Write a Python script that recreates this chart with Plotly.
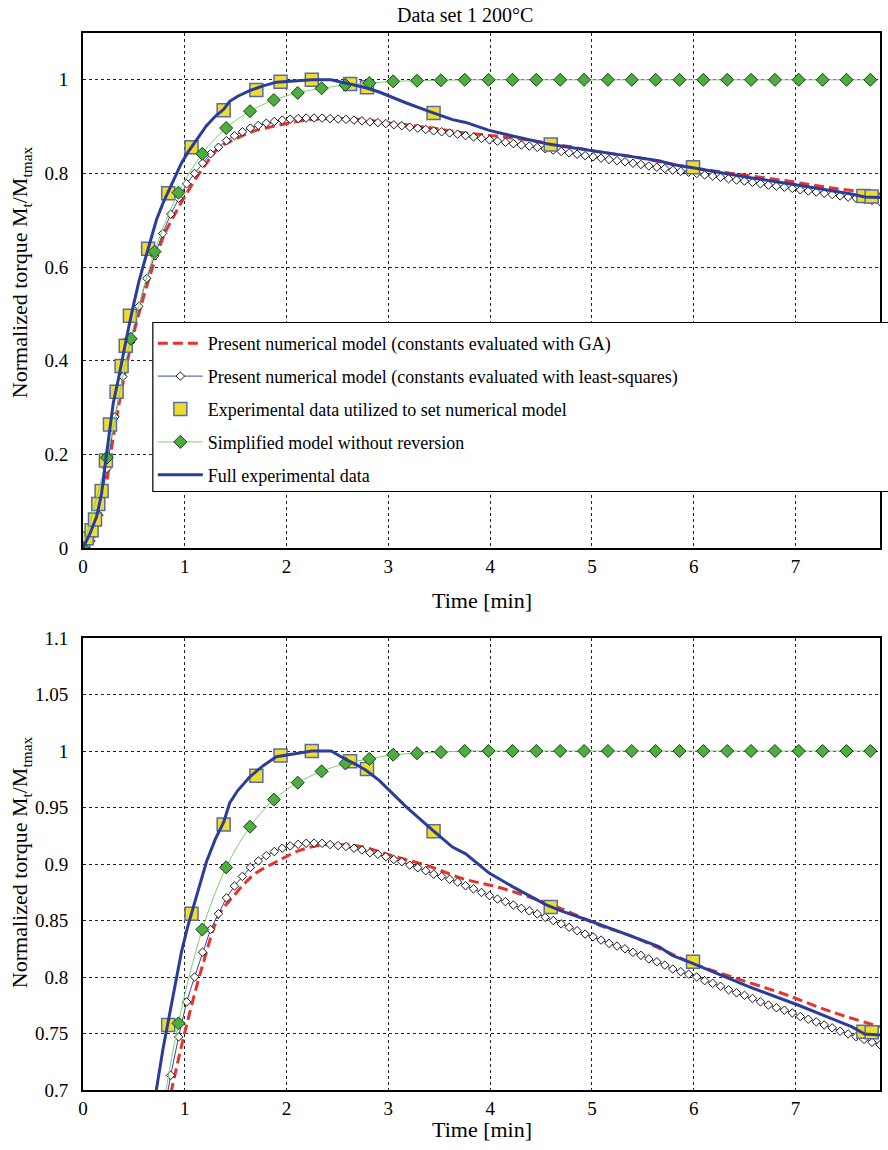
import plotly.graph_objects as go

# ---------------- data ----------------
# Present numerical model (GA)
t_ga = [0, 0.1, 0.2, 0.3, 0.4, 0.5, 0.6, 0.7, 0.8, 0.87, 1.0, 1.18, 1.343, 1.474, 1.6, 1.7,
        1.9, 2.13, 2.36, 2.585, 2.78, 3.01, 3.4, 3.73, 4.056, 4.38, 4.71, 5.07, 5.395, 5.72,
        5.99, 6.375, 6.866, 7.36, 7.83]
v_ga = [0, 0.02, 0.1, 0.24, 0.36, 0.46, 0.54, 0.61, 0.67, 0.70, 0.751, 0.812, 0.856, 0.871,
        0.884, 0.892, 0.902, 0.912, 0.917, 0.917, 0.9145, 0.908, 0.898, 0.887, 0.880, 0.871,
        0.860, 0.846, 0.836, 0.823, 0.812, 0.800, 0.7856, 0.769, 0.756]

# Present numerical model (least squares), sampled every ls_step minutes
ls_step = 0.0783
v_ls = [0, 0.015, 0.07, 0.17, 0.28, 0.366, 0.44, 0.516, 0.576, 0.624,
        0.672, 0.713, 0.747, 0.778, 0.800, 0.822, 0.842, 0.856, 0.870, 0.8805,
        0.889, 0.897, 0.9027, 0.9074, 0.911, 0.914, 0.916, 0.9174, 0.9183, 0.9185,
        0.9183, 0.9172, 0.9163, 0.9155, 0.914, 0.9124, 0.910, 0.9086, 0.9065, 0.904,
        0.902, 0.899, 0.8967, 0.894, 0.891, 0.889, 0.8865, 0.884, 0.8808, 0.878,
        0.8748, 0.872, 0.869, 0.8667, 0.8637, 0.8608, 0.8585, 0.8558, 0.8528, 0.850,
        0.847, 0.844, 0.841, 0.838, 0.8355, 0.8327, 0.8298, 0.8274, 0.8250, 0.8218,
        0.8192, 0.8160, 0.8135, 0.8105, 0.8070, 0.8047, 0.8025, 0.8000, 0.7968, 0.7944,
        0.7918, 0.7887, 0.7860, 0.7838, 0.7810, 0.7780, 0.7752, 0.7728, 0.7706, 0.7682,
        0.7650, 0.7626, 0.7603, 0.7576, 0.7550, 0.7520, 0.7496, 0.7472, 0.7448, 0.7422,
        0.7400]
t_ls = [round(ls_step * k, 4) for k in range(len(v_ls))]

# Experimental data utilized to set numerical model
t_exp = [0.003, 0.036, 0.085, 0.118, 0.15, 0.183, 0.225, 0.265, 0.33, 0.379, 0.42, 0.461,
         0.64, 0.837, 1.066, 1.382, 1.703, 1.941, 2.248, 2.624, 2.79, 3.444, 4.595, 5.993,
         7.667, 7.748]
v_exp = [0.003, 0.021, 0.038, 0.061, 0.094, 0.122, 0.187, 0.264, 0.334, 0.389, 0.432, 0.496,
         0.639, 0.7575, 0.856, 0.935, 0.978, 0.996, 1.0, 0.991, 0.984, 0.929, 0.862, 0.8135,
         0.7516, 0.751]

# Simplified model without reversion, sampled every simp_step minutes
simp_step = 0.2344
v_simp = [0, 0.193, 0.447, 0.633, 0.759, 0.842, 0.897, 0.933, 0.957, 0.972,
          0.982, 0.989, 0.993, 0.9967, 0.998, 0.999, 1.0, 1.0, 1.0, 1.0,
          1.0, 1.0, 1.0, 1.0, 1.0, 1.0, 1.0, 1.0, 1.0, 1.0,
          1.0, 1.0, 1.0, 1.0]
t_simp = [round(simp_step * k, 4) for k in range(len(v_simp))]

# Full experimental data
t_full = [0, 0.069, 0.134, 0.183, 0.225, 0.265, 0.297, 0.346, 0.395, 0.444, 0.493, 0.55,
          0.608, 0.665, 0.722, 0.787, 0.83, 0.902, 0.967, 1.03, 1.066, 1.108, 1.213, 1.3,
          1.382, 1.441, 1.52, 1.637, 1.77, 1.9, 2.095, 2.248, 2.438, 2.552, 2.683, 2.78,
          2.91, 3.17, 3.434, 3.63, 3.76, 3.99, 4.22, 4.546, 4.71, 4.97, 5.36, 5.657, 5.79,
          5.99, 6.54, 7.03, 7.55, 7.68, 7.83]
v_full = [0, 0.031, 0.067, 0.117, 0.19, 0.252, 0.309, 0.359, 0.415, 0.466, 0.516, 0.57,
          0.615, 0.66, 0.701, 0.737, 0.757, 0.794, 0.822, 0.845, 0.856, 0.871, 0.902, 0.922,
          0.937, 0.954, 0.965, 0.977, 0.987, 0.995, 0.998, 1.0, 1.0, 0.994, 0.988, 0.983,
          0.974, 0.951, 0.930, 0.915, 0.909, 0.892, 0.880, 0.864, 0.858, 0.850, 0.837, 0.827,
          0.819, 0.812, 0.7915, 0.775, 0.756, 0.7496, 0.7487]

names = ["Present numerical model (constants evaluated with GA)",
         "Present numerical model (constants evaluated with least-squares)",
         "Experimental data utilized to set numerical model",
         "Simplified model without reversion",
         "Full experimental data"]

x_ticks = [0, 1, 2, 3, 4, 5, 6, 7]
y1_ticks = [0, 0.2, 0.4, 0.6, 0.8, 1.0]
y1_labels = ["0", "0.2", "0.4", "0.6", "0.8", "1"]
y2_ticks = [0.7, 0.75, 0.8, 0.85, 0.9, 0.95, 1.0, 1.05, 1.1]
y2_labels = ["0.7", "0.75", "0.8", "0.85", "0.9", "0.95", "1", "1.05", "1.1"]

title_text = "Data set 1 200°C"
x_title = "Time [min]"
y_title = "Normalized torque M<sub>t</sub>/M<sub>tmax</sub>"

# ---------------- styles ----------------
RED = "#e8322b"
BLUE = "#2b3d9b"
LSBLUE = "#3348b0"
YEL = "#efdd2e"
SQB = "#5a6aa8"
GRN = "#4cae3c"
GRNL = "#7fd06f"
FONT = "Liberation Serif, Times New Roman, Times, serif"

# pixel helpers for paper coordinates (plot area: x 83..882, y 33..1090)
def px_x(p):
    return (p - 83) / 799.0

def px_y(p):
    return (1090 - p) / 1057.0

fig = go.Figure()

for i, (xa, ya) in enumerate([("x", "y"), ("x2", "y2")]):
    show = (i == 0)
    fig.add_trace(go.Scatter(x=t_ga, y=v_ga, mode="lines", name=names[0],
                             line=dict(color=RED, width=3, dash="10px,5px", shape="spline"),
                             xaxis=xa, yaxis=ya, showlegend=show, legendgroup="a"))
    fig.add_trace(go.Scatter(x=t_ls, y=v_ls, mode="lines+markers", name=names[1],
                             line=dict(color=LSBLUE, width=1),
                             marker=dict(symbol="diamond", size=6.5, color="white",
                                         line=dict(color="black", width=0.9)),
                             xaxis=xa, yaxis=ya, showlegend=show, legendgroup="b"))
    fig.add_trace(go.Scatter(x=t_exp, y=v_exp, mode="markers", name=names[2],
                             marker=dict(symbol="square", size=13, color=YEL,
                                         line=dict(color=SQB, width=1.5)),
                             xaxis=xa, yaxis=ya, showlegend=show, legendgroup="c"))
    fig.add_trace(go.Scatter(x=t_simp, y=v_simp, mode="lines+markers", name=names[3],
                             line=dict(color=GRNL, width=1, shape="spline"),
                             marker=dict(symbol="diamond", size=10, color=GRN,
                                         line=dict(color="#1e3a1e", width=1)),
                             xaxis=xa, yaxis=ya, showlegend=show, legendgroup="d"))
    fig.add_trace(go.Scatter(x=t_full, y=v_full, mode="lines", name=names[4],
                             line=dict(color=BLUE, width=3),
                             xaxis=xa, yaxis=ya, showlegend=show, legendgroup="e"))

axis_common = dict(showline=True, linecolor="black", linewidth=2, mirror=True,
                   showgrid=True, gridcolor="#222222", gridwidth=1, griddash="3px,3px",
                   zeroline=False, ticks="", tickfont=dict(family=FONT, size=19, color="black"))

fig.update_layout(
    width=888, height=1150,
    margin=dict(l=83, r=6, t=33, b=60),
    paper_bgcolor="white", plot_bgcolor="white",
    font=dict(family=FONT, color="black"),
    xaxis=dict(domain=[0, 1], range=[0, 7.83], tickvals=x_ticks, anchor="y", **axis_common),
    yaxis=dict(domain=[px_y(548), 1], range=[0, 1.1], tickvals=y1_ticks, ticktext=y1_labels,
               anchor="x", ticklabelstandoff=9, **axis_common),
    xaxis2=dict(domain=[0, 1], range=[0, 7.83], tickvals=x_ticks, anchor="y2", **axis_common),
    yaxis2=dict(domain=[0, px_y(638)], range=[0.7, 1.1], tickvals=y2_ticks, ticktext=y2_labels,
                anchor="x2", ticklabelstandoff=9, **axis_common),
    legend=dict(x=px_x(153), y=px_y(325), xanchor="left", yanchor="top",
                bgcolor="rgba(0,0,0,0)", borderwidth=0,
                font=dict(family=FONT, size=18, color="black"),
                traceorder="grouped", tracegroupgap=6.5, itemwidth=45),
    showlegend=True,
)

# legend frame (extends past the right edge like the original)
fig.add_shape(type="rect", xref="paper", yref="paper",
              x0=px_x(153), x1=px_x(905), y0=px_y(491.5), y1=px_y(322.5),
              fillcolor="white", line=dict(color="black", width=1.2), layer="above")

ann = [
    dict(text=title_text, x=px_x(466), y=px_y(15), xref="paper", yref="paper",
         showarrow=False, font=dict(family=FONT, size=20), xanchor="center", yanchor="middle"),
    dict(text=x_title, x=0.5, y=px_y(600), xref="paper", yref="paper",
         showarrow=False, font=dict(family=FONT, size=22), xanchor="center", yanchor="middle"),
    dict(text=x_title, x=0.5, y=px_y(1129), xref="paper", yref="paper",
         showarrow=False, font=dict(family=FONT, size=22), xanchor="center", yanchor="middle"),
    dict(text=y_title, x=px_x(21), y=px_y(272), xref="paper", yref="paper",
         showarrow=False, textangle=-90, font=dict(family=FONT, size=22),
         xanchor="center", yanchor="middle"),
    dict(text=y_title, x=px_x(21), y=px_y(862), xref="paper", yref="paper",
         showarrow=False, textangle=-90, font=dict(family=FONT, size=22),
         xanchor="center", yanchor="middle"),
]
fig.update_layout(annotations=ann)

fig.write_html("out.html")
